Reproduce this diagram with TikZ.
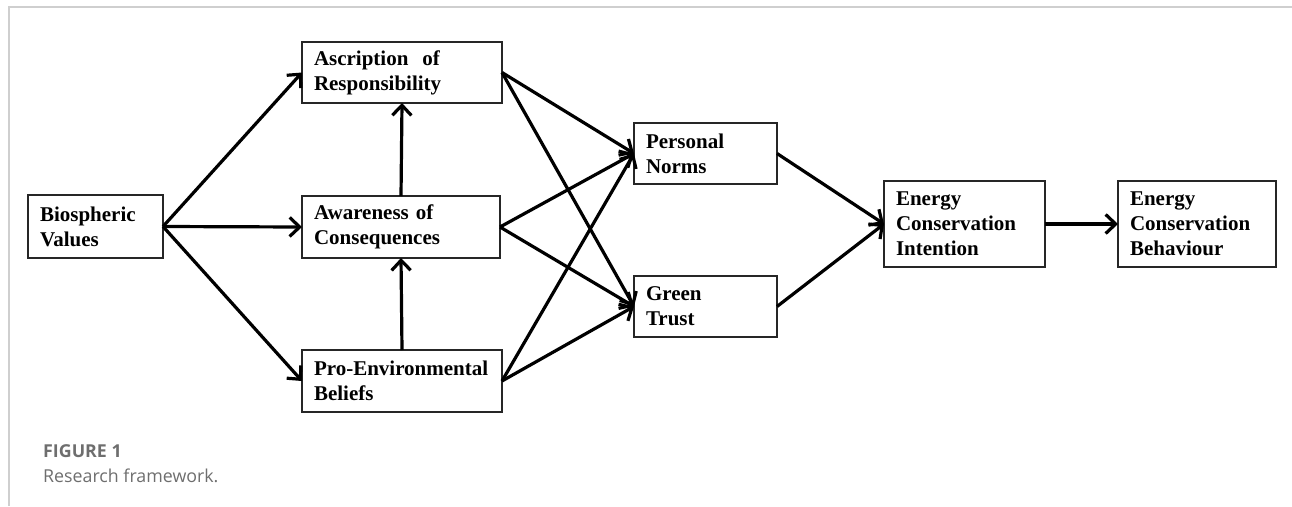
\documentclass[tikz,border=0pt]{standalone}
\usepackage{fontspec}
\setmainfont{Liberation Serif}
\newfontfamily\capfont{Open Sans}
\usetikzlibrary{arrows.meta}
\definecolor{capgray}{HTML}{6E6E6E}
\definecolor{framegray}{HTML}{CFCFCF}
\tikzset{
  box/.style={draw=black!85, line width=2pt, inner xsep=12pt, inner ysep=0pt, outer sep=0pt,
    align=left, font=\fontsize{21}{25}\selectfont\bfseries},
  link/.style={line width=3.2pt, -{Straight Barb[length=10pt,width=19pt]}, black},
  captitle/.style={anchor=base west, inner sep=0pt, text=capgray, font=\capfont\fontsize{17.8}{20}\selectfont\bfseries},
  captext/.style={anchor=base west, inner sep=0pt, text=capgray, font=\capfont\fontsize{17.8}{20}\selectfont}
}
\begin{document}
\begin{tikzpicture}[x=1pt,y=-1pt]
\useasboundingbox (0,0) rectangle (1292,506);
\draw[framegray, line width=1.2pt] (9,506) -- (9,7) -- (1292,7);

\node[box, minimum width=135pt, minimum height=63pt, text width=111pt] (bio) at (95.5,226.5) {Biospheric\\Values};
\node[box, minimum width=200pt, minimum height=61pt, text width=176pt] (asc) at (402,72.5) {Ascription\ \ of\\Responsibility};
\node[box, minimum width=198pt, minimum height=62pt, text width=174pt] (awa) at (401,227) {Awareness of\\Consequences};
\node[box, minimum width=200pt, minimum height=62pt, text width=176pt] (pro) at (402,381) {Pro-Environmental\\Beliefs};
\node[box, minimum width=143pt, minimum height=61pt, text width=119pt] (pn) at (705.5,153.5) {Personal\\Norms};
\node[box, minimum width=143pt, minimum height=61pt, text width=119pt] (gt) at (705.5,306.5) {Green\\Trust};
\node[box, minimum width=161pt, minimum height=86pt, text width=137pt] (eci) at (964.5,224) {Energy\\Conservation\\Intention};
\node[box, minimum width=158pt, minimum height=86pt, text width=134pt] (ecb) at (1197,224) {Energy\\Conservation\\Behaviour};

\draw[link] (bio.east) -- (asc.west);
\draw[link] (bio.east) -- (awa.west);
\draw[link] (bio.east) -- (pro.west);
\draw[link] (awa.north) -- (asc.south);
\draw[link] (pro.north) -- (awa.south);
\draw[link] (asc.east) -- (pn.west);
\draw[link] (asc.east) -- (gt.west);
\draw[link] (awa.east) -- (pn.west);
\draw[link] (awa.east) -- (gt.west);
\draw[link] (pro.east) -- (pn.west);
\draw[link] (pro.east) -- (gt.west);
\draw[link] (pn.east) -- (eci.west);
\draw[link] (gt.east) -- (eci.west);
\draw[link] (eci.east) -- (ecb.west);

\node[captitle] (cap1) at (43,457) {FIGURE 1};
\node[captext] (cap2) at (43,482) {Research framework.};
\end{tikzpicture}
\end{document}
